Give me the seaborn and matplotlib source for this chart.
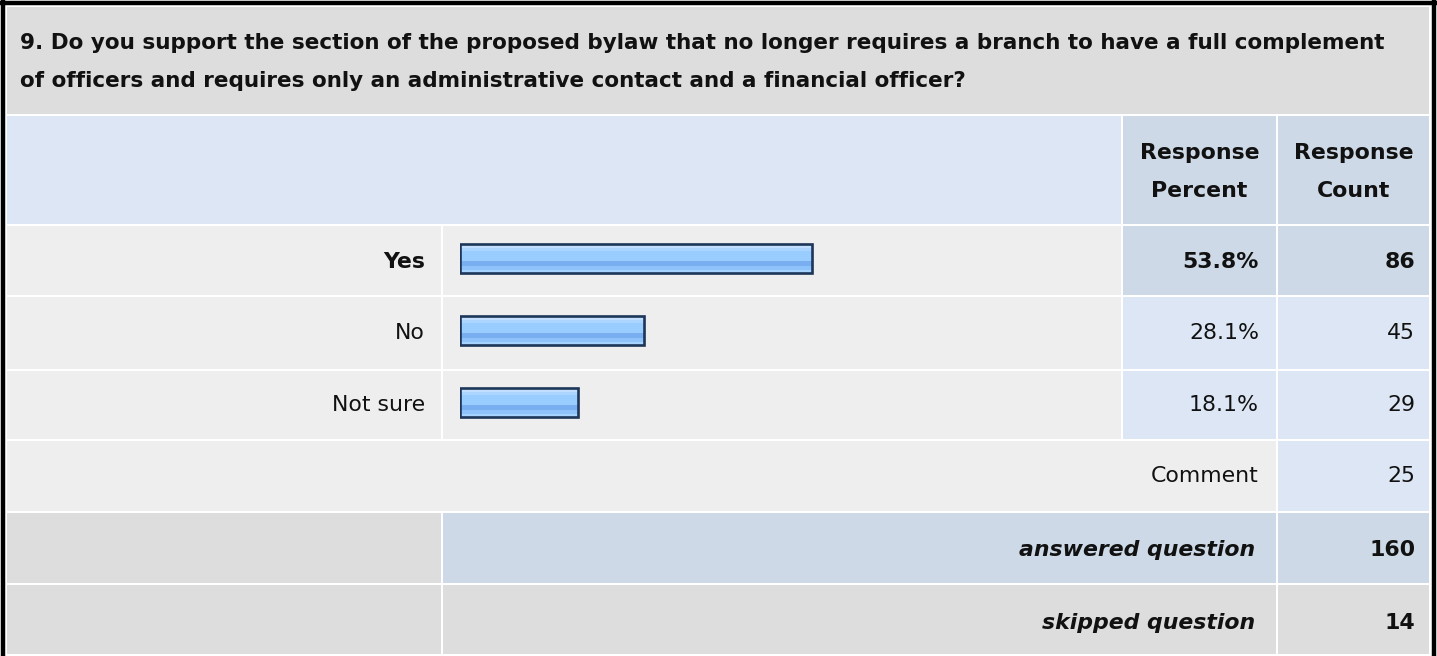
import numpy as np
import matplotlib
matplotlib.use("Agg")
import matplotlib.pyplot as plt
from matplotlib.patches import Rectangle
from matplotlib.colors import to_rgb
import seaborn as sns

# survey data
question = ["9. Do you support the section of the proposed bylaw that no longer "
            "requires a branch to have a full complement",
            "of officers and requires only an administrative contact and a "
            "financial officer?"]
answers = ["Yes", "No", "Not sure"]
percents = [53.8, 28.1, 18.1]
counts = [86, 45, 29]
comment_count = 25
answered = 160
skipped = 14

plt.rcParams['font.family'] = ['DejaVu Sans']

W, H = 1437, 656
fig = plt.figure(figsize=(W / 100, H / 100), dpi=100)
fig.patch.set_facecolor("white")
ax = fig.add_axes([0, 0, 1, 1])
ax.set_xlim(0, W)
ax.set_ylim(H, 0)
ax.axis("off")

GRAY = "#dddddd"
LIGHT = "#eeeeee"
BLUE_L = "#dce6f4"
BLUE_D = "#cdd9e6"
INK = "#111111"

# column and row edges (pixels)
cx = [7, 443, 1123, 1278, 1431]
ry = [7, 116, 226, 297, 371, 441, 513, 585, 656]


def cell(c0, c1, r0, r1, color):
    ax.add_patch(Rectangle((cx[c0], ry[r0]), cx[c1] - cx[c0] - 2,
                           ry[r1] - ry[r0] - 2, facecolor=color,
                           edgecolor="none", zorder=1))


# title + header
cell(0, 4, 0, 1, GRAY)
cell(0, 2, 1, 2, BLUE_L)
cell(2, 3, 1, 2, BLUE_D)
cell(3, 4, 1, 2, BLUE_D)
# answer rows
for i in range(3):
    cell(0, 1, 2 + i, 3 + i, LIGHT)
    cell(1, 2, 2 + i, 3 + i, LIGHT)
    col = BLUE_D if i == 0 else BLUE_L
    cell(2, 3, 2 + i, 3 + i, col)
    cell(3, 4, 2 + i, 3 + i, col)
# comment row
cell(0, 3, 5, 6, LIGHT)
cell(3, 4, 5, 6, BLUE_L)
# answered / skipped
cell(0, 1, 6, 7, GRAY)
cell(1, 3, 6, 7, BLUE_D)
cell(3, 4, 6, 7, BLUE_D)
cell(0, 1, 7, 8, GRAY)
cell(1, 3, 7, 8, GRAY)
cell(3, 4, 7, 8, GRAY)

# outer border
ax.plot([3, 3], [0, H], color="black", lw=3.2, solid_capstyle="butt")
ax.plot([1434, 1434], [0, H], color="black", lw=3.2, solid_capstyle="butt")
ax.plot([0, W], [3, 3], color="black", lw=3.2, solid_capstyle="butt")

fs = 15.8
tfs = 15.5
ax.text(20, 43, question[0], fontsize=tfs, fontweight="bold", va="center",
        ha="left", color=INK)
ax.text(20, 81, question[1], fontsize=tfs, fontweight="bold", va="center",
        ha="left", color=INK)
pct_x = (cx[2] + cx[3] - 2) / 2
cnt_x = (cx[3] + cx[4] - 2) / 2
for x, top, bot in [(pct_x, "Response", "Percent"),
                    (cnt_x, "Response", "Count")]:
    ax.text(x, 153, top, fontsize=fs, fontweight="bold", ha="center",
            va="center", color=INK)
    ax.text(x, 191, bot, fontsize=fs, fontweight="bold", ha="center",
            va="center", color=INK)

row_y = [262, 333, 405]
for i, (a, p, c) in enumerate(zip(answers, percents, counts)):
    w = "bold" if i == 0 else "normal"
    ax.text(425, row_y[i], a, fontsize=fs, fontweight=w, ha="right",
            va="center", color=INK)
    ax.text(1259, row_y[i], f"{p:.1f}%", fontsize=fs, fontweight=w,
            ha="right", va="center", color=INK)
    ax.text(1415, row_y[i], str(c), fontsize=fs, fontweight=w,
            ha="right", va="center", color=INK)

ax.text(1259, 476, "Comment", fontsize=fs, ha="right", va="center",
        color=INK)
ax.text(1415, 476, str(comment_count), fontsize=fs, ha="right", va="center",
        color=INK)
ax.text(1255, 550, "answered question", fontsize=fs, fontweight="bold",
        style="italic", ha="right", va="center", color=INK)
ax.text(1415, 550, str(answered), fontsize=fs, fontweight="bold",
        ha="right", va="center", color=INK)
ax.text(1255, 623, "skipped question", fontsize=fs, fontweight="bold",
        style="italic", ha="right", va="center", color=INK)
ax.text(1415, 623, str(skipped), fontsize=fs, fontweight="bold",
        ha="right", va="center", color=INK)

# bar chart in the answer column
bx0, bx1 = 460, 1114
by_top, by_bot = 258.5 - 36, 402.5 + 36
bax = fig.add_axes([bx0 / W, (H - by_bot) / H, (bx1 - bx0) / W,
                    (by_bot - by_top) / H])
sns.barplot(x=percents, y=answers, orient="h", width=0.4, color="#99ccff",
            ax=bax)
bax.set_xlim(0, 100)
bax.set_ylim(2.5, -0.5)
bax.axis("off")
bax.patch.set_alpha(0)

stripes = ["#c3dfff", "#c3dfff", "#c3dfff", "#abd5ff", "#abd5ff", "#99ccff",
           "#99ccff", "#99ccff", "#99ccff", "#99ccff", "#99ccff", "#99ccff",
           "#99ccff", "#79aff0", "#79aff0", "#79aff0", "#79aff0", "#8dc2fa",
           "#8dc2fa", "#8dc2fa", "#a7d3ff", "#a7d3ff"]
grad = np.array([to_rgb(s) for s in stripes])[:, None, :]
for p in bax.patches:
    x0, y0 = p.get_x(), p.get_y()
    w, h = p.get_width(), p.get_height()
    bax.imshow(grad, extent=(x0, x0 + w, y0 + h, y0), aspect="auto",
               interpolation="nearest", zorder=2)
    p.set_facecolor("none")
    p.set_edgecolor("#1d3659")
    p.set_linewidth(1.9)
    p.set_zorder(3)
bax.set_xlim(0, 100)
bax.set_ylim(2.5, -0.5)

fig.savefig("out.png", dpi=100)
